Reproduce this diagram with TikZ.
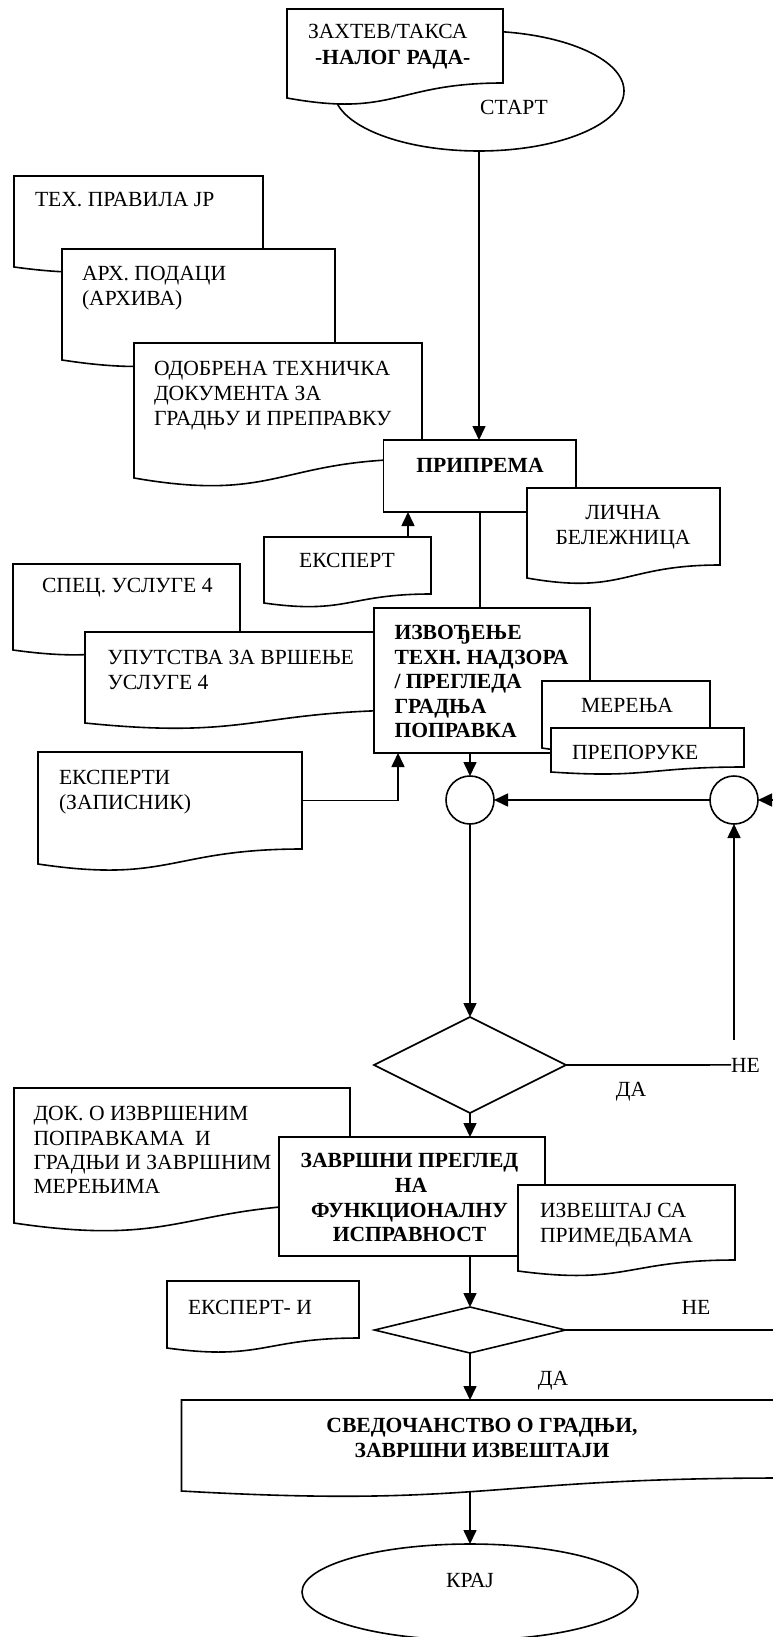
\documentclass[tikz,border=0pt]{standalone}
\usepackage{fontspec}
\setmainfont{Liberation Serif}
\usetikzlibrary{arrows.meta,shapes.geometric}

\newcommand{\fs}{\fontsize{21.6}{25}\selectfont}

% Document symbol: name, left x, top y, right x, right-bottom y, left-bottom y
\newcommand{\docshape}[6]{%
  \draw[outline] (#2,#3) -- (#4,#3) -- (#4,#5)
    .. controls ({(#2+#4)/2},#5) and ({(#2+#4)/2},{#5+2.314*(#6-#5)}) ..
    coordinate[pos=0.5] (#1 bottom) (#2,#6) -- cycle;
  \node[frame, minimum width={#4-#2}, minimum height={#5-#3}]
    (#1) at ({(#2+#4)/2},{(#3+#5)/2}) {};
}

\tikzset{
  outline/.style={draw, line width=1.6pt, fill=white, line join=miter},
  frame/.style={inner sep=0pt, outer sep=0pt},
  boxnode/.style={draw, line width=1.6pt, fill=white, inner sep=0pt, outer sep=0pt},
  ovalnode/.style={ellipse, boxnode},
  roundnode/.style={circle, boxnode, minimum size=48pt},
  choice/.style={diamond, boxnode},
  link/.style={line width=1.6pt},
  flow/.style={line width=1.6pt, -{Triangle[length=14pt,width=13pt]}},
  txt/.style={inner sep=0pt, outer sep=0pt, font=\fs},
  btxt/.style={inner sep=0pt, outer sep=0pt, font=\fs\bfseries},
}

\begin{document}
\begin{tikzpicture}[x=1pt,y=-1pt]
\useasboundingbox (0,0) rectangle (773,1637);
\clip (0,0) rectangle (773,1637);

% --- start ---
\node[ovalnode, minimum width=290pt, minimum height=120pt] (start) at (479,91) {};
\docshape{order}{287}{9}{503}{83}{98}
\node[txt, anchor=base west] (t-order1) at (308,39) {ЗАХТЕВ/ТАКСА};
\node[btxt, anchor=base west] (t-order2) at (315,65) {-НАЛОГ РАДА-};
\node[txt, anchor=base] (t-start) at (514,115) {СТАРТ};

% --- preparation ---
\node[boxnode, minimum width=192.5pt, minimum height=72pt] (prip) at (479.75,476) {};
\draw[flow] (start.south) -- (start.south |- prip.north);

\docshape{rules}{14}{176}{263}{254}{267}
\node[txt, anchor=base west] (t-rules) at (35,207) {ТЕХ. ПРАВИЛА ЈР};
\docshape{arch}{62}{249}{335}{344}{360}
\node[txt, anchor=base west] (t-arch1) at (82,280) {АРХ. ПОДАЦИ};
\node[txt, anchor=base west] (t-arch2) at (82,305) {(АРХИВА)};
\docshape{approved}{134}{343}{422}{459}{478}
\node[txt, anchor=base west] (t-appr1) at (154,375) {ОДОБРЕНА ТЕХНИЧКА};
\node[txt, anchor=base west] (t-appr2) at (154,400) {ДОКУМЕНТА ЗА};
\node[txt, anchor=base west] (t-appr3) at (154,425) {ГРАДЊУ И ПРЕПРАВКУ};

\node[boxnode, minimum width=192.5pt, minimum height=72pt] (prip) at (479.75,476) {};
\node[btxt, anchor=base] (t-prip) at (480,472) {ПРИПРЕМА};

\docshape{notes}{527}{488}{720}{565}{578}
\node[txt, anchor=base] (t-notes1) at (623,519) {ЛИЧНА};
\node[txt, anchor=base] (t-notes2) at (623,544) {БЕЛЕЖНИЦА};

\docshape{expert}{264}{537}{431}{594}{603}
\node[txt, anchor=base] (t-expert) at (347,567) {ЕКСПЕРТ};
\draw[flow] ([xshift=60.5pt]expert.north) -- ([xshift=60.5pt]expert.north |- prip.south);

% --- execution ---
\node[frame, minimum width=216pt, minimum height=145pt] (izv) at (482,680.5) {};
\draw[link] (prip.south) -- (prip.south |- izv.north);

\docshape{spec}{13}{564}{240}{638}{650}
\node[txt, anchor=base west] (t-spec) at (42,592) {СПЕЦ. УСЛУГЕ 4};
\docshape{manual}{85}{632}{420}{710}{723}
\node[txt, anchor=base west] (t-man1) at (107.5,664) {УПУТСТВА ЗА ВРШЕЊЕ};
\node[txt, anchor=base west] (t-man2) at (107.5,689) {УСЛУГЕ 4};

\node[boxnode, minimum width=216pt, minimum height=145pt] (izv) at (482,680.5) {};
\node[btxt, anchor=base west] (t-izv1) at (394.5,639) {ИЗВОЂЕЊЕ};
\node[btxt, anchor=base west] (t-izv2) at (394.5,664) {ТЕХН. НАДЗОРА};
\node[btxt, anchor=base west] (t-izv3) at (394.5,688) {/ ПРЕГЛЕДА};
\node[btxt, anchor=base west] (t-izv4) at (394.5,713) {ГРАДЊА};
\node[btxt, anchor=base west] (t-izv5) at (394.5,737) {ПОПРАВКА};

\docshape{meas}{542}{681}{710}{738}{748}
\node[txt, anchor=base west] (t-meas) at (581,712) {МЕРЕЊА};
\docshape{recom}{551}{728}{744}{767}{772}
\node[txt, anchor=base west] (t-recom) at (572,759) {ПРЕПОРУКЕ};

\docshape{experts}{38}{752}{302}{849}{864}
\node[txt, anchor=base west] (t-exps1) at (59,784) {ЕКСПЕРТИ};
\node[txt, anchor=base west] (t-exps2) at (59,809) {(ЗАПИСНИК)};
\draw[flow] (experts.east) -| ([xshift=24pt]izv.south west);

% --- junctions and first check ---
\node[roundnode] (c1) at (470,800) {};
\node[roundnode] (c2) at (734,800) {};
\draw[flow] (c1 |- izv.south) -- (c1.north);
\draw[flow] (c2.west) -- (c1.east);

\node[choice, minimum width=192pt, minimum height=96pt, aspect=2] (d1) at (470,1065) {};
\draw[flow] (c1.south) -- (d1.north);
\node[txt, anchor=base west] (ne1) at (731,1072) {НЕ};
\draw[link] (d1.east) -- (ne1.west);
\coordinate (ne1-up) at (734,1040);
\draw[flow] (ne1-up) -- (c2.south);
\node[txt, anchor=base] (da1) at (631,1096) {ДА};

% --- final inspection ---
\node[frame, minimum width=266pt, minimum height=119pt] (zav) at (412,1196.5) {};
\draw[flow] (d1.south) -- (d1.south |- zav.north);

\docshape{done}{14}{1088}{350}{1204}{1223}
\node[txt, anchor=base west] (t-done1) at (33.5,1120) {ДОК. О ИЗВРШЕНИМ};
\node[txt, anchor=base west] (t-done2) at (33.5,1145) {ПОПРАВКАМА\ \ И};
\node[txt, anchor=base west] (t-done3) at (33.5,1169) {ГРАДЊИ И ЗАВРШНИМ};
\node[txt, anchor=base west] (t-done4) at (33.5,1193) {МЕРЕЊИМА};

\node[boxnode, minimum width=266pt, minimum height=119pt] (zav) at (412,1196.5) {};
\node[btxt, anchor=base] (t-zav1) at (409.5,1167) {ЗАВРШНИ ПРЕГЛЕД};
\node[btxt, anchor=base] (t-zav2) at (411,1192) {НА};
\node[btxt, anchor=base] (t-zav3) at (409.5,1217) {ФУНКЦИОНАЛНУ};
\node[btxt, anchor=base] (t-zav4) at (409.5,1241) {ИСПРАВНОСТ};

\docshape{report}{518}{1185}{735}{1260}{1271}
\node[txt, anchor=base west] (t-rep1) at (540,1217) {ИЗВЕШТАЈ СА};
\node[txt, anchor=base west] (t-rep2) at (540,1242) {ПРИМЕДБАМА};

\docshape{expi}{167}{1281}{359}{1338}{1348}
\node[txt, anchor=base west] (t-expi) at (188,1314) {ЕКСПЕРТ- И};

\node[choice, minimum width=191pt, minimum height=46pt, aspect=4] (d2) at (470,1330) {};
\draw[flow] (d2 |- zav.south) -- (d2.north);
\draw[flow] (d2.east) -| ([xshift=32pt]c2.east) -- (c2.east);
\node[txt, anchor=base] (ne2) at (696,1314) {НЕ};
\node[txt, anchor=base] (da2) at (553,1385) {ДА};

% --- certificate and end ---
\docshape{cert}{181.5}{1400}{782}{1478}{1491}
\node[btxt, anchor=base] (t-cert1) at (482,1432) {СВЕДОЧАНСТВО О ГРАДЊИ,};
\node[btxt, anchor=base] (t-cert2) at (482,1457) {ЗАВРШНИ ИЗВЕШТАЈИ};
\draw[flow] (d2.south) -- (d2.south |- cert.north);

\node[ovalnode, minimum width=336pt, minimum height=96pt] (kraj) at (470,1592) {};
\node[txt, anchor=base] (t-kraj) at (470,1587) {КРАЈ};
\draw[flow] (kraj.north |- cert bottom) -- (kraj.north);

\end{tikzpicture}
\end{document}
